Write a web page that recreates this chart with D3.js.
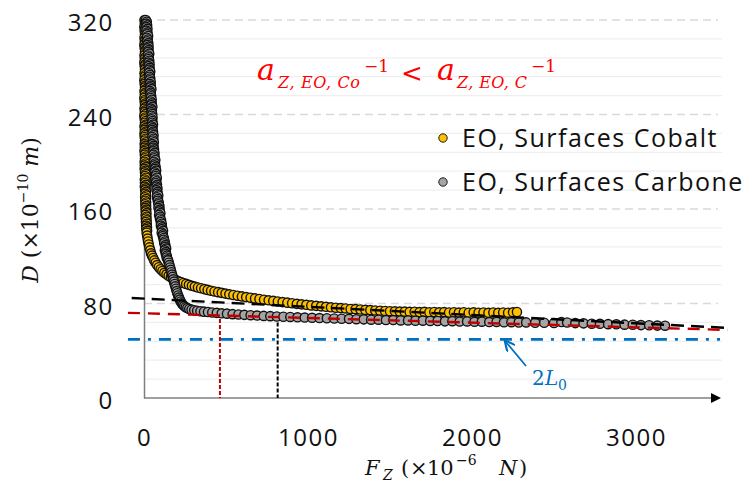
<!DOCTYPE html>
<html><head><meta charset="utf-8">
<script src="https://cdn.jsdelivr.net/npm/d3@7"></script>
<style>body{margin:0;background:#fff} svg{display:block}</style>
</head><body><svg id="c" width="747" height="490"></svg>
<script>
// ---- data ----
const xTicks = [0, 1000, 2000, 3000];
const yTicks = [0, 80, 160, 240, 320];
const yMinor = [16, 32, 48, 64, 96, 112, 128, 144, 176, 192, 208, 224, 256, 272, 288, 304];
const seriesNames = ["EO, Surfaces Cobalt", "EO, Surfaces Carbone"];

// [F (x1e-6 N), D (x1e-10 m)]
const cobalt = [
[3,320],[8,318.5],[5,317],[10,315.5],[2,314],[7,312.5],[4,311],[9,309.5],[6,308],[11,306.5],
[3,305],[8,303.5],[5,302],[10,300.5],[2,299],[7,297.5],[4,296],[9,294.5],[6,293],[11,291.5],
[3,290],[8,288.5],[5,287],[10,285.5],[2,284],[7,282.5],[4,281],[9,279.5],[6,278],[11,276.5],
[3,275],[8,273.5],[5,272],[10,270.5],[2,269],[7,267.5],[4,266],[9,264.5],[6,263],[11,261.5],
[3,260],[8,258.5],[5,257],[10,255.5],[2,254],[7,252.5],[4,251],[9,249.5],[6,248],[11,246.5],
[3,245],[8,243.5],[5,242],[10,240.5],[2,239],[7,237.5],[4,236],[9,234.5],[6,233],[11,231.5],
[3,230],[8,228.5],[5,227],[10,225.5],[3,224],[7,222.5],[4,221],[9,219.5],[6,218],[11,216.5],
[4,215],[8,213.5],[5,212],[10,210.5],[3,209],[8,207.5],[5,206],[10,204.5],[6,203],[11,201.5],
[4,200],[9,198.5],[5,197],[10,195.5],[4,194],[9,192.5],[6,191],[11,189.5],[7,188],[12,186.5],
[5,185],[10,183.5],[6,182],[11,180.5],[5,179],[10,177.5],[7,176],[12,174.5],[8,173],[13,171.5],
[7,170],[12,168.5],[8,167],[13,165.5],[8,164],[13,162.5],[9,161],[14,159.5],[10,158],[15,156.5],
[10,155],[15,153.5],[11,152],[16,150.5],[12,149],[17,147.5],[13,146],[18,144.5],[14,143],[19,141.5],
[16,140],[19,137.5],[22,135],[25,132.5],[29,130],[33,127.5],[38,125],[43,122.5],[49,120.5],[56,118.5],[63,116.5],[71,114.5],
[80,112.5],[90,110.7],[101,109],[112,107.5],[124,106],[137,104.7],[150,103.4],[164,102.2],[178,101],[193,100],[208,99.1],
[224,98.2],[240,97.4],[257,96.6],[274,95.8],[292,95],[310,94.3],[329,93.6],[348,92.9],[368,92.2],[388,91.5],[409,90.8],
[430,90.2],[452,89.6],[474,89],[497,88.4],[520,87.8],[545,87.2],[571,86.6],[597,86.0],[623,85.4],[650,84.9],[677,84.3],
[704,83.8],[732,83.2],[760,82.7],[788,82.2],[816,81.7],[845,81.2],[874,80.7],[903,80.2],[932,79.7],[961,79.3],[990,78.9],
[1020,78.4],[1050,78.0],[1080,77.6],[1110,77.2],[1140,76.8],[1170,76.4],[1200,76.1],[1230,75.8],[1260,75.4],[1290,75.2],
[1320,74.9],[1350,74.6],[1380,74.4],[1410,74.1],[1440,73.9],[1470,73.7],[1500,73.5],[1530,73.4],[1560,73.2],[1590,73.1],
[1620,72.9],[1650,73.0],[1680,72.7],[1710,72.9],[1740,72.6],[1770,72.8],[1800,72.5],[1830,72.7],[1860,72.4],[1890,72.6],
[1920,72.3],[1950,72.6],[1980,72.2],[2010,72.5],[2040,72.2],[2070,72.4],[2100,72.1],[2130,72.4],[2160,72.1],[2190,72.4],
[2220,72.2],[2250,72.5],[2274,72.8]
];
const carbone = [
[11,320],[17,318.5],[14,317],[19,315.5],[15,314],[21,312.5],[15,311],[21,309.5],[19,308],[25,306.5],
[17,305],[23,303.5],[20,302],[26,300.5],[22,299],[28,297.5],[22,296],[28,294.5],[26,293],[32,291.5],
[24,290],[29,288.5],[27,287],[32,285.5],[28,284],[34,282.5],[28,281],[34,279.5],[32,278],[38,276.5],
[30,275],[35,273.5],[33,272],[38,270.5],[35,269],[41,267.5],[35,266],[41,264.5],[39,263],[45,261.5],
[36,260],[41,258.5],[39,257],[44,255.5],[41,254],[47,252.5],[41,251],[47,249.5],[45,248],[51,246.5],
[43,245],[48,243.5],[46,242],[50,240.5],[47,239],[52,237.5],[46,236],[51,234.5],[50,233],[55,231.5],
[47,230],[52,228.5],[50,227],[55,225.5],[52,224],[58,222.5],[51,221],[57,219.5],[55,218],[60,216.5],
[52,215],[58,213.5],[56,212],[61,210.5],[58,209],[64,207.5],[58,206],[64,204.5],[63,203],[69,201.5],
[61,200],[67,198.5],[65,197],[71,195.5],[68,194],[74,192.5],[67,191],[73,189.5],[72,188],[78,186.5],
[69,185],[75,183.5],[73,182],[79,180.5],[76,179],[82,177.5],[76,176],[82,174.5],[81,173],[87,171.5],
[79,170],[85,168.5],[84,167],[90,165.5],[88,164],[94,162.5],[88,161],[95,159.5],[94,158],[100,156.5],
[92,155],[98,153.5],[97,152],[104,150.5],[102,149],[108,147.5],[103,146],[110,144.5],[109,143],[116,141.5],
[108,140],[115,138.5],[115,137],[121,135.5],[120,134],[126,132.5],[123,131],[130,129.5],[129,128],[135,126.5],
[127,125],[133,123.5],[133,122],[139,120.5],[138,119],[144,117.5],
[147,116.5],[151,114.5],[155,112.5],[159,110.5],[163,108.5],[167,106.5],[171,104.5],[175,102.5],[179,100.5],[183,98.5],
[187,96.5],[191,94.5],[195,92.5],[199,90.5],[203,88.7],[208,86.8],[213,85],[218,83.3],[224,81.7],[230,80.2],[237,78.9],
[245,77.8],[254,76.9],[264,76.1],[276,75.4],[290,74.8],[306,74.3],[324,73.9],[344,73.5],[366,73.1],[390,72.8],[416,72.4],
[444,72.1],[474,71.7],[506,71.4],[540,71.0],[576,70.7],[612,70.4],[650,70.1],[690,69.8],[730,69.5],[770,69.3],[810,69.0],
[850,68.8],[892,68.6],[936,68.3],[980,68.1],[1025,67.9],[1070,67.7],[1115,67.5],[1160,67.3],[1205,67.1],[1250,67.0],
[1295,66.7],[1340,66.6],[1385,66.3],[1430,66.3],[1475,66.0],[1520,66.0],[1565,65.7],[1610,65.7],[1655,65.4],[1700,65.5],
[1745,65.2],[1790,65.2],[1835,64.9],[1880,65.0],[1925,64.7],[1970,64.8],[2015,64.5],[2060,64.6],[2105,64.3],[2150,64.4],
[2195,64.1],[2240,64.2],[2285,63.9],[2330,64.0],[2385,63.7],[2440,63.7],[2500,63.5],[2545,64.3],[2580,63.9],[2630,63.4],
[2680,63.2],[2730,62.9],[2780,62.8],[2830,62.5],[2880,62.4],[2930,62.1],[2980,62.0],[3030,61.7],[3080,61.6],[3130,61.3],[3177,61.2]
];
// fitted lines and reference lines
const fitCobalt = [[-75, 84.7], [3565, 59.3]];
const fitCarbone = [[-98, 72.1], [3560, 57.6]];
const twoL0 = [[-98, 49.6], [3512, 49.6]];
const vRed = [[463, 72.0], [463, 0]];
const vBlack = [[815, 69.0], [815, 0]];

// ---- drawing ----
const svg = d3.select("#c");
const x = d3.scaleLinear().domain([0, 3512]).range([144, 720]);
const y = d3.scaleLinear().domain([0, 320]).range([398, 20]);
const SANS = "'Open Sans', sans-serif";
const SERIF = "'DejaVu Serif', serif";

// gridlines
svg.append("g").selectAll("line").data(yMinor).join("line")
  .attr("x1", x(0)).attr("x2", 722).attr("y1", d => y(d)).attr("y2", d => y(d))
  .attr("stroke", "#EFEFEF").attr("stroke-width", 1.2);
svg.append("g").selectAll("line").data(yTicks.filter(d => d > 0)).join("line")
  .attr("x1", x(0)).attr("x2", 718).attr("y1", d => y(d)).attr("y2", d => y(d))
  .attr("stroke", "#D9D9D9").attr("stroke-width", 1.6).attr("stroke-dasharray", "8,5");

// axes
const yAxis = d3.axisLeft(y).tickValues(yTicks).tickSize(0).tickPadding(30).tickFormat(d3.format("d"));
const gy = svg.append("g").attr("transform", `translate(${x(0)},0)`).call(yAxis);
gy.select(".domain").attr("stroke", "#7F7F7F").attr("stroke-width", 1.5);
gy.selectAll("text").attr("font-family", SANS).attr("font-size", 24).attr("letter-spacing", "1.7px")
  .attr("fill", "#111").attr("dy", "0.45em");

const xAxis = d3.axisBottom(x).tickValues(xTicks).tickSize(0).tickPadding(31).tickFormat(d3.format("d"));
const gx = svg.append("g").attr("transform", `translate(0,${y(0)})`).call(xAxis);
gx.select(".domain").attr("stroke", "#7F7F7F").attr("stroke-width", 1.5).attr("d", `M${x(0)},0H712`);
gx.selectAll("text").attr("font-family", SANS).attr("font-size", 24).attr("letter-spacing", "1.5px")
  .attr("fill", "#111");
svg.append("path").attr("d", `M711,${y(0)-5}L721,${y(0)}L711,${y(0)+5}Z`).attr("fill", "#000");

// fits / reference lines
const line = d3.line().x(d => x(d[0])).y(d => y(d[1]));
svg.append("path").attr("d", line(twoL0)).attr("stroke", "#0070C0").attr("stroke-width", 2.6)
  .attr("stroke-dasharray", "12,8,3,8").attr("fill", "none");
svg.append("path").attr("d", line(vRed)).attr("stroke", "#C00000").attr("stroke-width", 2)
  .attr("stroke-dasharray", "4,2").attr("fill", "none");
svg.append("path").attr("d", line(vBlack)).attr("stroke", "#000").attr("stroke-width", 2)
  .attr("stroke-dasharray", "4,2").attr("fill", "none");

// scatter
const colors = ["#FFC000", "#A5A5A5"];
[cobalt, carbone].forEach((s, i) => {
  svg.append("g").selectAll("circle").data(s).join("circle")
    .attr("cx", d => x(d[0])).attr("cy", d => y(d[1])).attr("r", 4.6)
    .attr("fill", colors[i]).attr("stroke", "#111").attr("stroke-width", 1.4);
});

svg.append("path").attr("d", line(fitCobalt)).attr("stroke", "#000").attr("stroke-width", 2.4)
  .attr("stroke-dasharray", "13,7").attr("fill", "none");
svg.append("path").attr("d", line(fitCarbone)).attr("stroke", "#C00000").attr("stroke-width", 2.4)
  .attr("stroke-dasharray", "12,8").attr("fill", "none");

// legend
const lg = svg.append("g");
seriesNames.forEach((n, i) => {
  const yy = 138 + i * 44;
  lg.append("circle").attr("cx", 443).attr("cy", yy).attr("r", 4.2)
    .attr("fill", colors[i]).attr("stroke", "#1a1a1a").attr("stroke-width", 1);
  lg.append("text").attr("x", 462).attr("y", yy + 9).text(n)
    .attr("font-family", SANS).attr("font-size", 25).attr("letter-spacing", "1.5px").attr("fill", "#111");
});

// formula
function piece(t, px, py, size, italic, color, len) {
  const e = svg.append("text").attr("x", px).attr("y", py).text(t)
    .attr("font-family", SERIF).attr("font-size", size)
    .attr("font-style", italic ? "italic" : "normal").attr("fill", color);
  if (len) e.attr("textLength", len).attr("lengthAdjust", "spacing");
  return e;
}
const RED = "#FF0000";
piece("a", 257, 80, 30, true, RED);
piece("Z, EO, Co", 278, 88, 16, true, RED, 82);
piece("−1", 364, 72, 17, false, RED);
piece("<", 401, 82, 26, false, RED);
piece("a", 437, 80, 30, true, RED);
piece("Z, EO, C", 457, 88, 16, true, RED, 70);
piece("−1", 531, 72, 17, false, RED);

// 2L0 annotation
const BLUE = "#0070C0";
svg.append("defs").append("marker").attr("id", "ah").attr("viewBox", "0 0 10 10")
  .attr("refX", 8).attr("refY", 5).attr("markerWidth", 6).attr("markerHeight", 6).attr("orient", "auto")
  .append("path").attr("d", "M0,0L10,5L0,10").attr("fill", "none").attr("stroke", BLUE).attr("stroke-width", 2);
svg.append("line").attr("x1", 526).attr("y1", 366).attr("x2", 506).attr("y2", 342)
  .attr("stroke", BLUE).attr("stroke-width", 1.8).attr("marker-end", "url(#ah)");
piece("2", 532, 385, 20, false, BLUE);
piece("L", 545, 385, 20, true, BLUE);
piece("0", 558, 390, 14, false, BLUE);

// axis titles
const xt = svg.append("text").attr("y", 475).attr("font-family", SERIF).attr("font-size", 21).attr("fill", "#111");
xt.append("tspan").attr("x", 365).attr("font-style", "italic").text("F");
xt.append("tspan").attr("x", 383).attr("font-style", "italic").attr("font-size", 14).attr("dy", 5).text("Z");
xt.append("tspan").attr("x", 401).attr("dy", -5).text("(");
xt.append("tspan").attr("x", 410).text("×");
xt.append("tspan").attr("x", 427).text("10");
xt.append("tspan").attr("x", 456).attr("font-size", 14).attr("dy", -10).text("−6");
xt.append("tspan").attr("x", 499).attr("dy", 10).attr("font-style", "italic").text("N");
xt.append("tspan").attr("x", 519).text(")");

const yt = svg.append("text").attr("transform", "translate(38,210) rotate(-90)")
  .attr("text-anchor", "middle").attr("font-family", SERIF).attr("font-size", 22).attr("fill", "#111");
yt.append("tspan").attr("font-style", "italic").text("D");
yt.append("tspan").text(" (×10");
yt.append("tspan").attr("font-size", 14).attr("dy", -10).text("−10");
yt.append("tspan").attr("dy", 10).attr("font-style", "italic").text(" m");
yt.append("tspan").text(")");
</script></body></html>
